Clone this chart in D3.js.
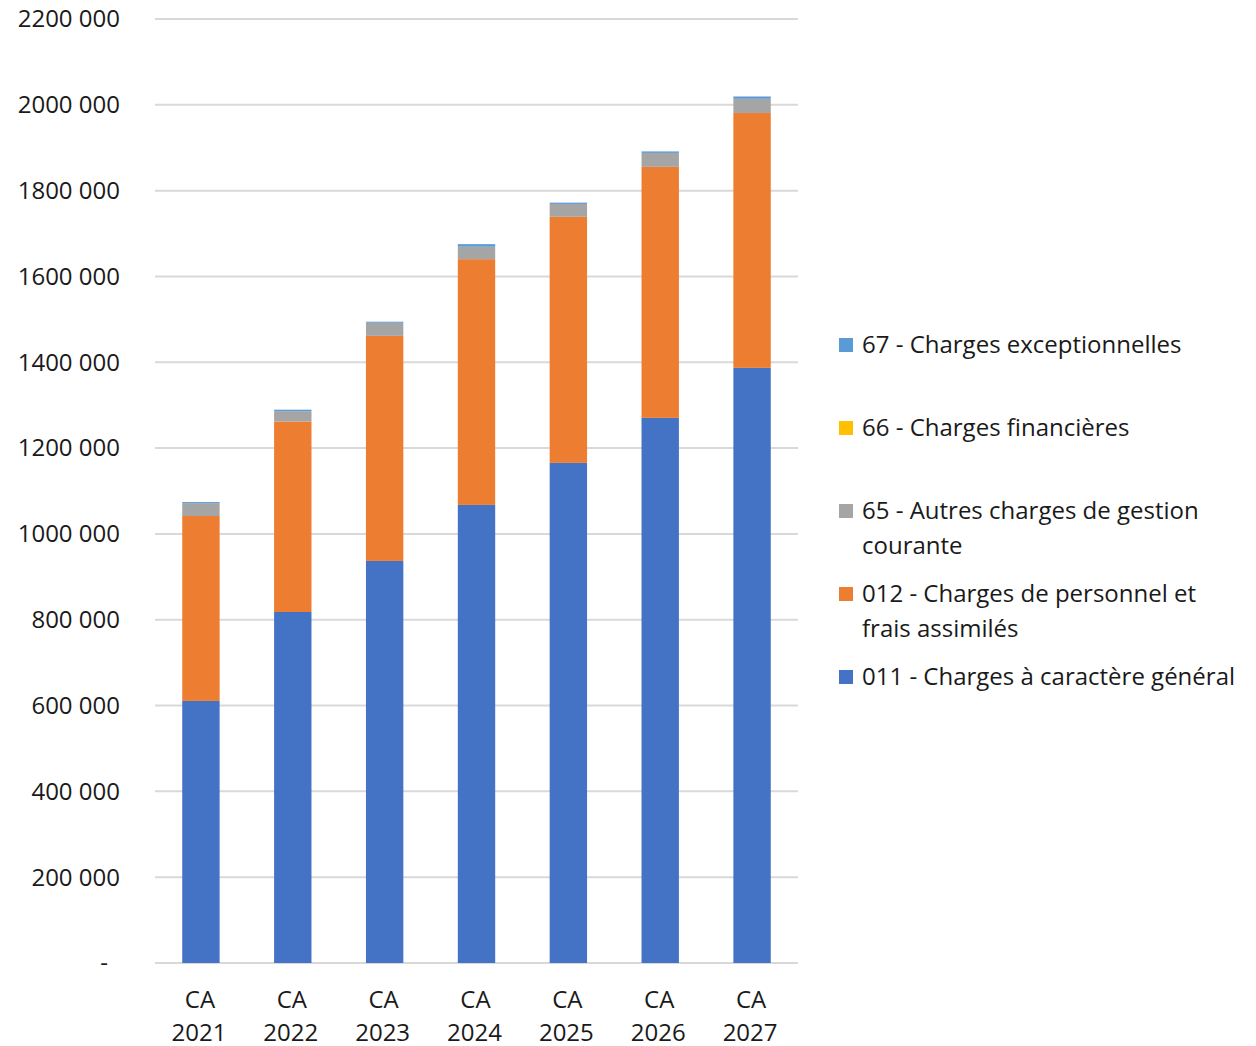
<!DOCTYPE html>
<html>
<head>
<meta charset="utf-8">
<title>Charges CA 2021-2027</title>
<script src="https://cdnjs.cloudflare.com/ajax/libs/d3/7.8.5/d3.min.js"></script>
<style>
    body { margin: 0; background: #fff; }
    text { font-family: "Open Sans", Lato, sans-serif; fill: #1a1a1a; }
</style>
</head>
<body>
<div id="chart"></div>
<script>
    // years (two-line labels)
    var years = ["2021", "2022", "2023", "2024", "2025", "2026", "2027"];

    // series values
    var c011 = [610700, 818000, 937000, 1067600, 1165500, 1270400, 1387000];
    var c012 = [431000, 444000, 524500, 572700, 573500, 585000, 594000];
    var c65  = [30000, 24000, 30500, 29000, 30000, 32500, 33000];
    var c66  = [0, 0, 0, 0, 0, 0, 0];
    var c67  = [2500, 3500, 2500, 6000, 3000, 3500, 5400];

    var seriesKeys = ["c011", "c012", "c65", "c66", "c67"];
    var seriesNames = {
        c011: ["011 - Charges à caractère général"],
        c012: ["012 - Charges de personnel et", "frais assimilés"],
        c65: ["65 - Autres charges de gestion", "courante"],
        c66: ["66 - Charges financières"],
        c67: ["67 - Charges exceptionnelles"]
    };
    var colors = {
        c011: "#4472C4", c012: "#ED7D31", c65: "#A5A5A5", c66: "#FFC000", c67: "#5B9BD5"
    };
    var yTicks = d3.range(0, 2200001, 200000);

    var rows = years.map(function(y, i) {
        return { year: y, c011: c011[i], c012: c012[i], c65: c65[i], c66: c66[i], c67: c67[i] };
    });

    var width = 1256, height = 1046;
    var plotLeft = 155, plotRight = 798, plotTop = 19, plotBottom = 963;

    var svg = d3.select("#chart").append("svg")
        .attr("width", width)
        .attr("height", height);

    var x = d3.scaleBand()
        .domain(years)
        .range([plotLeft, plotRight])
        .paddingInner(0.593)
        .paddingOuter(0.2965);

    var y = d3.scaleLinear()
        .domain([0, 2200000])
        .range([plotBottom, plotTop]);

    function fmt(v) {
        if (v === 0) return "-";
        var th = Math.floor(v / 1000), rest = v % 1000;
        return th + " " + String(rest).padStart(3, "0");
    }

    // gridlines
    svg.append("g")
        .selectAll("line")
        .data(yTicks)
        .enter().append("line")
        .attr("x1", plotLeft)
        .attr("x2", plotRight)
        .attr("y1", function(d) { return y(d); })
        .attr("y2", function(d) { return y(d); })
        .attr("stroke", "#d9d9d9")
        .attr("stroke-width", 2);

    // y labels
    svg.append("g")
        .selectAll("text")
        .data(yTicks)
        .enter().append("text")
        .attr("x", function(d) { return d === 0 ? 108 : 120; })
        .attr("y", function(d) { return y(d); })
        .attr("dy", "0.35em")
        .attr("text-anchor", "end")
        .style("font-size", "24px")
        .text(fmt);

    // stacked bars
    var stack = d3.stack().keys(seriesKeys);
    var layers = stack(rows);

    svg.append("g")
        .selectAll("g")
        .data(layers)
        .enter().append("g")
        .attr("fill", function(d) { return colors[d.key]; })
        .selectAll("rect")
        .data(function(d) { return d; })
        .enter().append("rect")
        .attr("x", function(d) { return x(d.data.year); })
        .attr("width", x.bandwidth())
        .attr("y", function(d) { return y(d[1]); })
        .attr("height", function(d) { return y(d[0]) - y(d[1]); });

    // x labels
    var xl = svg.append("g")
        .selectAll("text")
        .data(years)
        .enter().append("text")
        .attr("text-anchor", "middle")
        .style("font-size", "24px");
    xl.append("tspan")
        .attr("x", function(d) { return x(d) + x.bandwidth() / 2 - 1; })
        .attr("y", 1008)
        .text("CA");
    xl.append("tspan")
        .attr("x", function(d) { return x(d) + x.bandwidth() / 2 - 2; })
        .attr("y", 1041)
        .text(function(d) { return d; });

    // legend
    var legendOrder = ["c67", "c66", "c65", "c012", "c011"];
    var lg = svg.append("g")
        .selectAll("g")
        .data(legendOrder)
        .enter().append("g")
        .attr("transform", function(d, i) { return "translate(839," + (345 + i * 83) + ")"; });
    lg.append("rect")
        .attr("x", 0)
        .attr("y", -7)
        .attr("width", 14)
        .attr("height", 14)
        .attr("fill", function(d) { return colors[d]; });
    lg.each(function(d) {
        var g = d3.select(this);
        seriesNames[d].forEach(function(line, j) {
            g.append("text")
                .attr("x", 23)
                .attr("y", j * 35)
                .attr("dy", "0.35em")
                .style("font-size", "24px")
                .text(line);
        });
    });
</script>
</body>
</html>
